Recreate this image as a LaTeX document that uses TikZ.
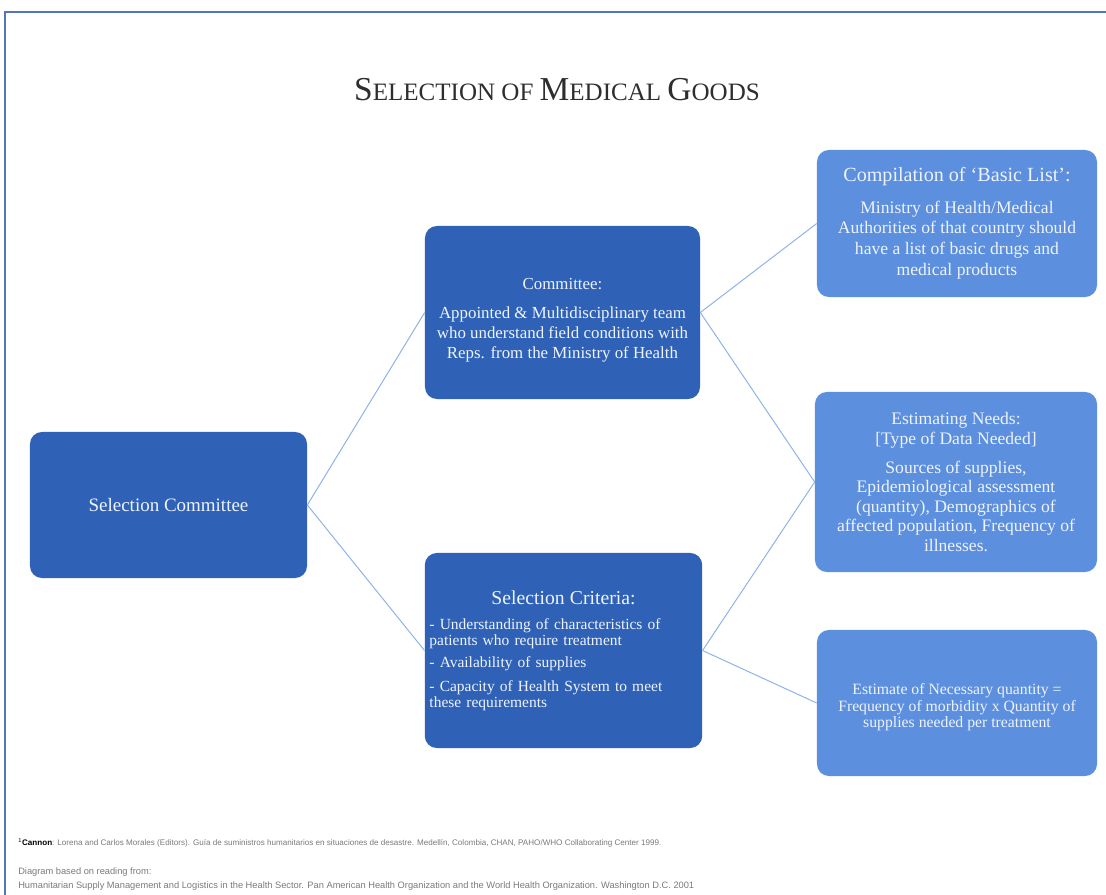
\documentclass[tikz,border=0pt]{standalone}
\usepackage{fontspec}
\setmainfont{Liberation Serif}
\newfontfamily\notefont{Liberation Sans}

\definecolor{boxdark}{HTML}{2F62B6}
\definecolor{boxlight}{HTML}{5C8FDE}
\definecolor{boxtext}{HTML}{EEF3FC}
\definecolor{linkblue}{HTML}{8DB2E8}
\definecolor{frameblue}{HTML}{5575B8}
\definecolor{titlegrey}{HTML}{2E2E2E}
\definecolor{notegrey}{HTML}{7A7A7A}

\begin{document}
\begin{tikzpicture}[x=0.025cm, y=-0.025cm,
    darkbox/.style={fill=boxdark, rounded corners=0.3cm, text=boxtext, align=center},
    lightbox/.style={fill=boxlight, rounded corners=0.3cm, text=boxtext, align=center},
    link/.style={draw=linkblue, line width=0.7pt},
    note/.style={anchor=west, inner sep=0pt, text=notegrey, font=\notefont\fontsize{6.6}{7}\selectfont}]
    \useasboundingbox (0,0) rectangle (1106,895);
    \draw [frameblue, line width=1.4pt] (1106,12) -- (5,12) -- (5,895);

    % title
    \node (title) at (557,90) [text=titlegrey]
      {\fontsize{23.8}{26}\selectfont S\fontsize{17.8}{20}\selectfont ELECTION OF
       \fontsize{23.8}{26}\selectfont M\fontsize{17.8}{20}\selectfont EDICAL
       \fontsize{23.8}{26}\selectfont G\fontsize{17.8}{20}\selectfont OODS};

    % left column
    \node (selcomm) at (168.5,505) [darkbox, minimum width=6.925cm, minimum height=3.65cm,
      font=\fontsize{13.5}{15}\selectfont] {Selection Committee};

    % middle column
    \node (committee) at (562.5,312.5) [darkbox, minimum width=6.875cm, minimum height=4.325cm,
      font=\fontsize{12}{14}\selectfont]
      {\rule{0pt}{19pt}Committee:\\[6.5pt]
       Appointed \& Multidisciplinary team\\
       who understand field conditions with\\
       Reps. from the Ministry of Health};
    \node (criteria) at (563.5,650.5) [darkbox, minimum width=6.925cm, minimum height=4.875cm,
      text width=6.7cm, align=left, font=\fontsize{11}{11}\selectfont]
      {{\centering\fontsize{14}{16}\selectfont Selection Criteria:\par}\vspace{7pt}
       - Understanding of characteristics of\\ patients who require treatment\par\vspace{5pt}
       - Availability of supplies\par\vspace{6pt}
       - Capacity of Health System to meet\\ these requirements};

    % right column
    \node (basiclist) at (957,223.5) [lightbox, minimum width=7cm, minimum height=3.675cm,
      font=\fontsize{12.5}{14.8}\selectfont]
      {{\fontsize{14.3}{16}\selectfont Compilation of ‘Basic List’:}\\[7.5pt]
       Ministry of Health/Medical\\
       Authorities of that country should\\
       have a list of basic drugs and\\
       medical products};
    \node (needs) at (956,482) [lightbox, minimum width=7.05cm, minimum height=4.5cm,
      font=\fontsize{12.5}{13.8}\selectfont]
      {Estimating Needs:\\
       {[}Type of Data Needed{]}\\[7pt]
       Sources of supplies,\\
       Epidemiological assessment\\
       (quantity), Demographics of\\
       affected population, Frequency of\\
       illnesses.};
    \node (quantity) at (957,703) [lightbox, minimum width=7cm, minimum height=3.65cm,
      font=\fontsize{11.2}{11.9}\selectfont]
      {\rule{0pt}{14pt}Estimate of Necessary quantity =\\
       Frequency of morbidity x Quantity of\\
       supplies needed per treatment};

    % connectors
    \draw [link] (selcomm.east) -- (committee.west);
    \draw [link] (selcomm.east) -- (criteria.west);
    \draw [link] (committee.east) -- (basiclist.west);
    \draw [link] (committee.east) -- (needs.west);
    \draw [link] (criteria.east) -- (needs.west);
    \draw [link] (criteria.east) -- (quantity.west);

    % footer
    \node (source) at (18,843) [note, font=\notefont\fontsize{5.75}{6}\selectfont]
      {\textcolor{black}{\textsuperscript{1}\textbf{Cannon}}: Lorena and Carlos Morales (Editors). Guía de suministros humanitarios en situaciones de desastre. Medellín, Colombia, CHAN, PAHO/WHO Collaborating Center 1999.};
    \node (basedon) at (18,872) [note] {Diagram based on reading from:};
    \node (reading) at (18,886) [note]
      {Humanitarian Supply Management and Logistics in the Health Sector. Pan American Health Organization and the World Health Organization. Washington D.C. 2001};
\end{tikzpicture}
\end{document}
